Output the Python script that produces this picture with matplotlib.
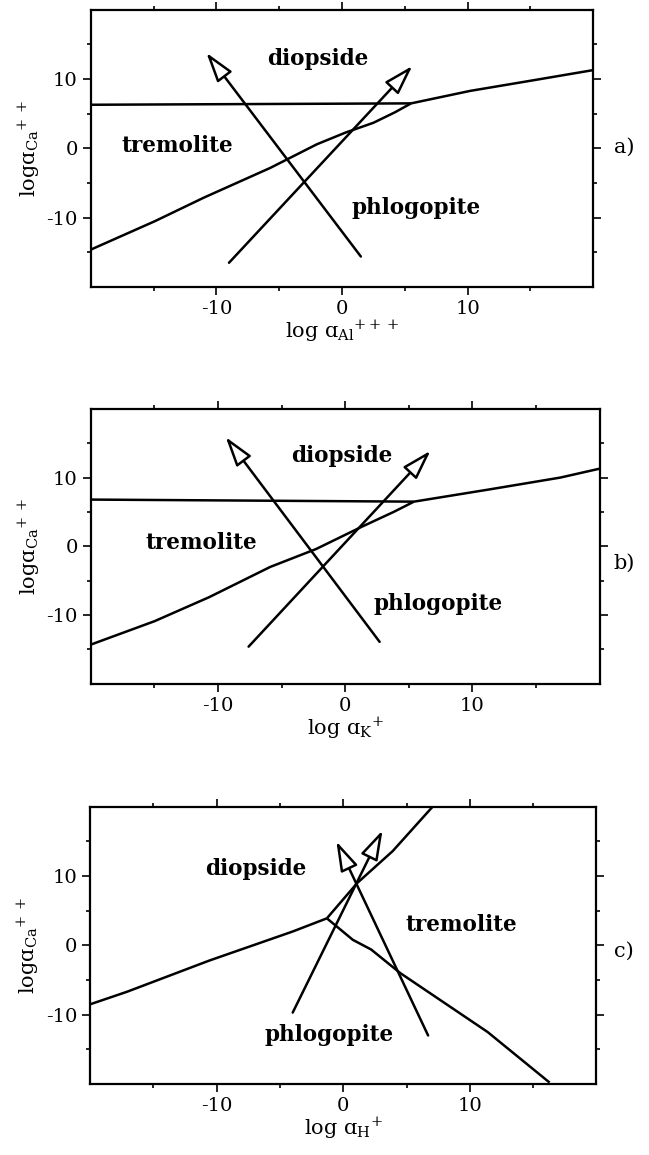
import matplotlib
matplotlib.use("Agg")
from matplotlib import pyplot as plt
from matplotlib.ticker import FixedLocator

plt.rcParams['font.family'] = ['DejaVu Serif']
plt.rcParams['mathtext.fontset'] = 'dejavuserif'
plt.rcParams['axes.unicode_minus'] = False

# panel a) log a Al+++
a_top_x = [-20, 5.5]
a_top_y = [6.3, 6.5]
a_right_x = [5.5, 10.2, 14.8, 20]
a_right_y = [6.5, 8.3, 9.7, 11.3]
a_low_x = [-20, -14.9, -11, -5.7, -2.0, 0.3, 2.5, 4.2, 5.5]
a_low_y = [-14.6, -10.5, -7.1, -2.8, 0.6, 2.3, 3.7, 5.2, 6.5]
a_arrows = [((1.5, -15.6), (-10.8, 13.8)), ((-9, -16.5), (5.6, 11.9))]
a_labels = [("diopside", -1.9, 12.9), ("tremolite", -13.1, 0.3), ("phlogopite", 5.9, -8.6)]

# panel b) log a K+
b_top_x = [-20, 5.4]
b_top_y = [6.8, 6.5]
b_right_x = [5.4, 11.4, 16.9, 20]
b_right_y = [6.5, 8.3, 10.0, 11.3]
b_low_x = [-20, -15, -10.7, -5.9, -2.3, 1.3, 3.8, 5.4]
b_low_y = [-14.3, -10.9, -7.4, -3.0, -0.4, 2.85, 5.0, 6.5]
b_arrows = [((2.7, -13.9), (-9.4, 15.9)), ((-7.6, -14.6), (6.7, 13.9))]
b_labels = [("diopside", -0.3, 13.1), ("tremolite", -11.3, 0.5), ("phlogopite", 7.3, -8.4)]

# panel c) log a H+
c_left_x = [-20, -17.1, -10.6, -4.0, -1.3]
c_left_y = [-8.5, -6.7, -2.2, 2.0, 3.9]
c_up_x = [-1.3, 1.1, 3.9, 7.1]
c_up_y = [3.9, 9.0, 13.6, 20.1]
c_down_x = [-1.3, -0.7, 0.75, 2.2, 4.5, 11.4, 16.3]
c_down_y = [3.9, 3.0, 0.8, -0.6, -4.0, -12.5, -19.8]
c_arrows = [((6.7, -13.0), (-0.55, 15.0)), ((-4.0, -9.7), (3.1, 16.6))]
c_labels = [("diopside", -6.9, 11.0), ("tremolite", 9.3, 3.0), ("phlogopite", -1.15, -12.9)]

xlabels = ['log ɑ$_{\\rm Al}{}^{+++}$', 'log ɑ$_{\\rm K}{}^{+}$', 'log ɑ$_{\\rm H}{}^{+}$']
ylabel = 'logɑ$_{\\rm Ca}{}^{+\\,+}$'
tags = ['a)', 'b)', 'c)']

fig = plt.figure(figsize=(6.49, 11.55), dpi=100)
positions = [
	[0.140, 0.7515, 0.774, 0.240],
	[0.140, 0.408, 0.784, 0.238],
	[0.139, 0.0615, 0.780, 0.240],
]
axes = [fig.add_axes(p) for p in positions]

lines = [
	[(a_top_x, a_top_y), (a_right_x, a_right_y), (a_low_x, a_low_y)],
	[(b_top_x, b_top_y), (b_right_x, b_right_y), (b_low_x, b_low_y)],
	[(c_left_x, c_left_y), (c_up_x, c_up_y), (c_down_x, c_down_y)],
]
arrows = [a_arrows, b_arrows, c_arrows]
labels = [a_labels, b_labels, c_labels]
tag_y = [0.505, 0.44, 0.48]

for i, ax in enumerate(axes):
	for xs, ys in lines[i]:
		ax.plot(xs, ys, color='black', lw=1.8, solid_capstyle='butt')
	for tail, tip in arrows[i]:
		ax.annotate('', xy=tip, xytext=tail,
			arrowprops=dict(arrowstyle='-|>,head_length=1.3,head_width=0.4',
				fc='white', ec='black', lw=1.8, mutation_scale=14,
				shrinkA=0, shrinkB=0))
	for name, x, y in labels[i]:
		ax.text(x, y, name, ha='center', va='center', fontsize=15.5, fontweight='bold')

	ax.set_xlim(-20, 20)
	ax.set_ylim(-20, 20)
	ax.xaxis.set_major_locator(FixedLocator([-10, 0, 10]))
	ax.yaxis.set_major_locator(FixedLocator([-10, 0, 10]))
	ax.xaxis.set_minor_locator(FixedLocator([-15, -5, 5, 15]))
	ax.yaxis.set_minor_locator(FixedLocator([-15, -5, 5, 15]))
	ax.tick_params(which='both', direction='out', top=True, right=True, width=1.2, labelsize=14)
	ax.tick_params(which='major', length=6)
	ax.tick_params(which='minor', length=3)
	for s in ax.spines.values():
		s.set_linewidth(1.6)
	ax.set_xlabel(xlabels[i], fontsize=15, labelpad=0)
	ax.set_ylabel(ylabel, fontsize=15, labelpad=3)
	pos = ax.get_position()
	fig.text(0.962, pos.y0 + tag_y[i] * pos.height, tags[i], ha='center', va='center', fontsize=15)

plt.savefig("out.png", dpi=100)
